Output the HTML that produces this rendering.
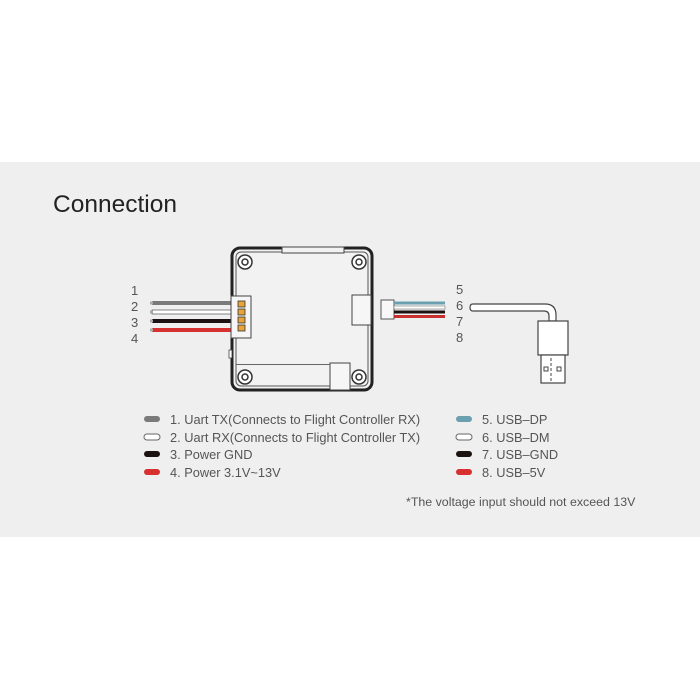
<!DOCTYPE html>
<html><head><meta charset="utf-8"><style>
html,body{margin:0;padding:0;background:#fff;}
svg{display:block;}
text{font-family:"Liberation Sans",sans-serif;}
</style></head><body>
<svg width="700" height="700" viewBox="0 0 700 700" xmlns="http://www.w3.org/2000/svg">
<rect x="0" y="0" width="700" height="700" fill="#fff"/>
<rect x="0" y="162" width="700" height="375" fill="#efefef"/>
<text x="53" y="212" font-size="24.5" fill="#222">Connection</text>

<g>
<rect x="152" y="301" width="80" height="4" fill="#7a7a7a"/>
<rect x="152" y="310" width="80" height="4" fill="#fff" stroke="#666" stroke-width="0.8"/>
<rect x="152" y="319" width="80" height="4" fill="#1c1212"/>
<rect x="152" y="328" width="80" height="4" fill="#d63030"/>
<rect x="150" y="301.5" width="3" height="3" fill="#aaa"/>
<rect x="150" y="310.5" width="3" height="3" fill="#aaa"/>
<rect x="150" y="319.5" width="3" height="3" fill="#aaa"/>
<rect x="150" y="328.5" width="3" height="3" fill="#aaa"/>
</g>
<g font-size="13" fill="#555">
<text x="131" y="295">1</text><text x="131" y="311">2</text><text x="131" y="327">3</text><text x="131" y="343">4</text>
<text x="456" y="294">5</text><text x="456" y="310">6</text><text x="456" y="326">7</text><text x="456" y="342">8</text>
</g>

<rect x="232" y="248" width="140" height="142" rx="8" fill="#f2f2f2" stroke="#222" stroke-width="3"/>
<rect x="236" y="252" width="132" height="134" rx="5" fill="none" stroke="#555" stroke-width="1"/>
<rect x="282" y="247" width="62" height="6" fill="#f2f2f2" stroke="#444" stroke-width="1"/>
<g fill="#fff" stroke="#333" stroke-width="1.5">
<circle cx="245" cy="262" r="7"/><circle cx="359" cy="262" r="7"/>
<circle cx="245" cy="377" r="7"/><circle cx="359" cy="377" r="7"/>
</g>
<g fill="none" stroke="#333" stroke-width="1.5">
<circle cx="245" cy="262" r="3"/><circle cx="359" cy="262" r="3"/>
<circle cx="245" cy="377" r="3"/><circle cx="359" cy="377" r="3"/>
</g>
<rect x="231" y="296" width="20" height="42" fill="#f6f6f6" stroke="#444" stroke-width="1"/>
<g fill="#e8a43a" stroke="#333" stroke-width="0.8">
<rect x="238" y="301" width="7" height="6"/><rect x="238" y="309" width="7" height="6"/>
<rect x="238" y="317" width="7" height="6"/><rect x="238" y="325" width="7" height="6"/>
</g>
<rect x="352" y="295" width="19" height="30" fill="#f6f6f6" stroke="#444" stroke-width="1"/>
<rect x="330" y="363" width="20" height="27" fill="#f6f6f6" stroke="#444" stroke-width="1"/>
<rect x="229" y="350" width="3" height="8" fill="#fff" stroke="#444" stroke-width="0.8"/>
<rect x="236" y="364" width="94" height="1" fill="#666"/>

<rect x="381" y="300" width="13" height="19" fill="#f8f8f8" stroke="#555" stroke-width="1"/>
<rect x="394" y="301.5" width="51" height="3" fill="#6aa0b0"/>
<rect x="394" y="306" width="51" height="3" fill="#fff" stroke="#777" stroke-width="0.6"/>
<rect x="394" y="310.5" width="51" height="3" fill="#1c1212"/>
<rect x="394" y="315" width="51" height="3" fill="#c83030"/>

<path d="M473 304 L545 304 Q556 304 556 315 L556 321 L549 321 L549 316 Q549 311 544 311 L473 311 Q470 311 470 307.5 Q470 304 473 304 Z" fill="#fff" stroke="#444" stroke-width="1.2"/>
<rect x="538" y="321" width="30" height="34" fill="#fff" stroke="#444" stroke-width="1.2"/>
<rect x="541" y="355" width="24" height="28" fill="#fff" stroke="#444" stroke-width="1.2"/>
<rect x="544" y="367" width="4" height="4" fill="none" stroke="#444"/>
<rect x="557" y="367" width="4" height="4" fill="none" stroke="#444"/>
<path d="M551 358 L551 382" stroke="#444" stroke-width="1" stroke-dasharray="3 2"/>

<g stroke-width="1">
<rect x="144" y="416" width="16" height="6" rx="3" fill="#7a7a7a"/>
<rect x="144" y="434" width="16" height="6" rx="3" fill="#fff" stroke="#666"/>
<rect x="144" y="451" width="16" height="6" rx="3" fill="#1c1212"/>
<rect x="144" y="469" width="16" height="6" rx="3" fill="#d63030"/>
<rect x="456" y="416" width="16" height="6" rx="3" fill="#6aa0b0"/>
<rect x="456" y="434" width="16" height="6" rx="3" fill="#fff" stroke="#666"/>
<rect x="456" y="451" width="16" height="6" rx="3" fill="#1c1212"/>
<rect x="456" y="469" width="16" height="6" rx="3" fill="#d63030"/>
</g>
<g font-size="12.8" fill="#555">
<text x="170" y="424">1. Uart TX(Connects to Flight Controller RX)</text>
<text x="170" y="442">2. Uart RX(Connects to Flight Controller TX)</text>
<text x="170" y="459">3. Power GND</text>
<text x="170" y="477">4. Power 3.1V~13V</text>
<text x="482" y="424">5. USB–DP</text>
<text x="482" y="442">6. USB–DM</text>
<text x="482" y="459">7. USB–GND</text>
<text x="482" y="477">8. USB–5V</text>
<text x="406" y="506" font-size="12.4">*The voltage input should not exceed 13V</text>
</g>
</svg>
</body></html>
